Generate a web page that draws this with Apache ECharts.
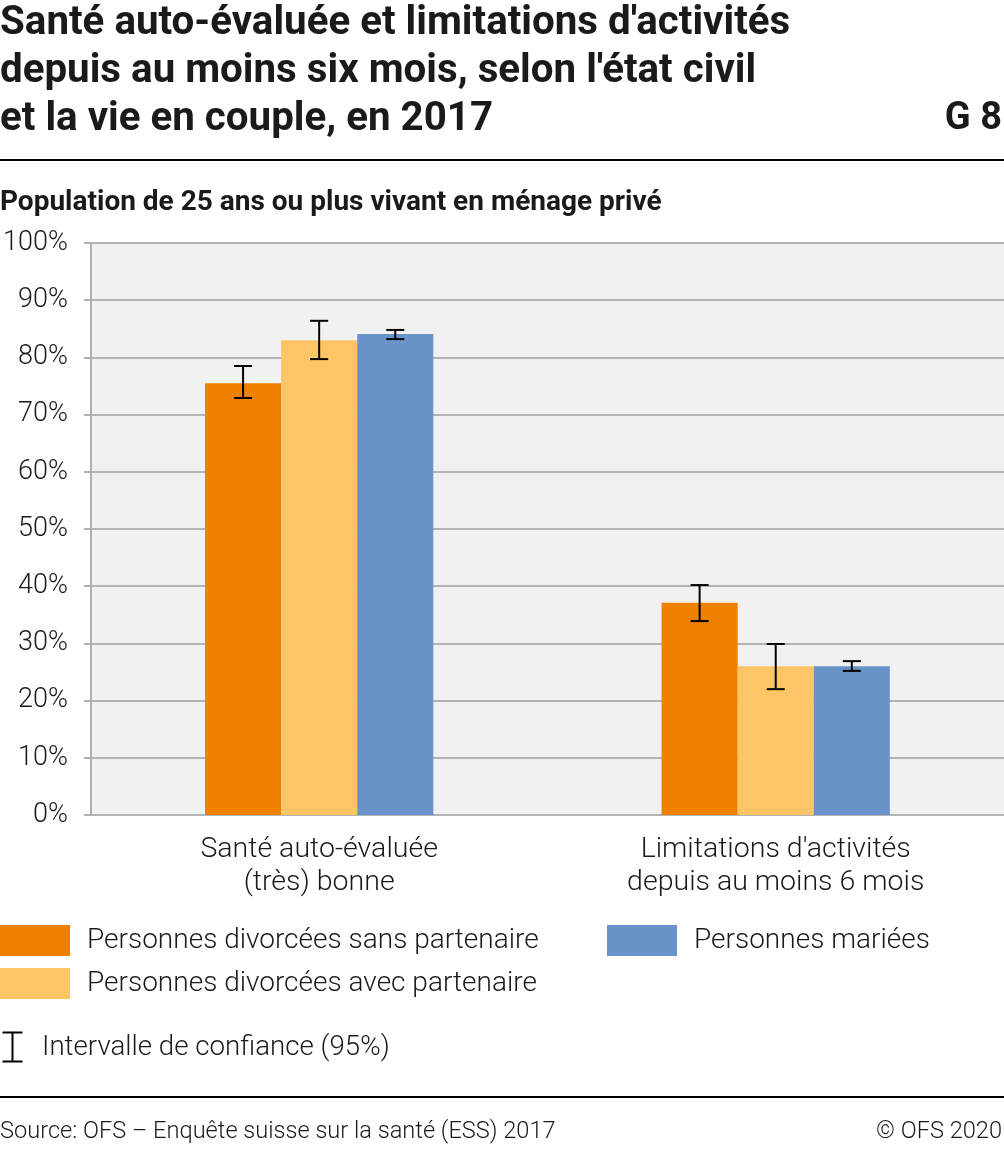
<!DOCTYPE html>
<html><head><meta charset="utf-8">
<script src="https://cdn.jsdelivr.net/npm/echarts@6/dist/echarts.min.js"></script>
<style>html,body{margin:0;padding:0;background:#fff}#c{width:1004px;height:1157px}</style>
</head><body><div id="c"></div>
<script>
const categories = ['Santé auto-évaluée\n(très) bonne', "Limitations d'activités\ndepuis au moins 6 mois"];
const seriesNames = ['Personnes divorcées sans partenaire', 'Personnes divorcées avec partenaire', 'Personnes mariées'];
const colors = ['#f08000', '#fdc566', '#6a93cc'];
const divSans = [75.5, 37.1];
const divAvec = [83.0, 26.0];
const maries = [84.1, 26.0];
const lowDivSans = [72.9, 33.9], highDivSans = [78.5, 40.2];
const lowDivAvec = [79.7, 22.0], highDivAvec = [86.4, 29.9];
const lowMaries = [83.2, 25.2], highMaries = [84.8, 26.9];
const yTicks = [0, 10, 20, 30, 40, 50, 60, 70, 80, 90, 100];

const values = [divSans, divAvec, maries];
const lows = [lowDivSans, lowDivAvec, lowMaries];
const highs = [highDivSans, highDivAvec, highMaries];
const FONT = 'Roboto';
const TXT = '#1a1a1a';

const chart = echarts.init(document.getElementById('c'), null, {renderer: 'canvas'});

const errData = [];
for (let s = 0; s < 3; s++) for (let i = 0; i < categories.length; i++) errData.push([i, lows[s][i], highs[s][i], s]);

function renderErr(params, api) {
  const i = api.value(0), lo = api.value(1), hi = api.value(2), s = api.value(3);
  const band = api.size([1, 0])[0];
  const bw = band * 0.5 / 3;
  const c = api.coord([i, 0]);
  const x = c[0] + (s - 1) * bw;
  const yl = api.coord([i, lo])[1], yh = api.coord([i, hi])[1];
  const cap = 9;
  const st = {stroke: '#000', lineWidth: 2};
  return {type: 'group', children: [
    {type: 'line', shape: {x1: x, y1: yl, x2: x, y2: yh}, style: st},
    {type: 'line', shape: {x1: x - cap, y1: yl, x2: x + cap, y2: yl}, style: st},
    {type: 'line', shape: {x1: x - cap, y1: yh, x2: x + cap, y2: yh}, style: st}
  ]};
}

const legendBase = {itemWidth: 70, itemHeight: 31, itemGap: 0, icon: 'rect', selectedMode: false,
  textStyle: {fontFamily: FONT, fontSize: 28, fontWeight: 300, color: TXT, padding: [5, 0, 0, 12]}, padding: 0};

const option = {
  animation: false,
  textStyle: {fontFamily: FONT},
  title: [
    {text: "Santé auto-évaluée et limitations d'activités\ndepuis au moins six mois, selon l'état civil\net la vie en couple, en 2017",
     left: 0, top: 0, padding: 0,
     textStyle: {fontFamily: FONT, fontSize: 40.3, fontWeight: 'bold', color: TXT, lineHeight: 48}},
    {text: 'G 8', right: 2, top: 100, padding: 0,
     textStyle: {fontFamily: FONT, fontSize: 38, fontWeight: 'bold', color: TXT}},
    {text: 'Population de 25 ans ou plus vivant en ménage privé', left: 0, top: 189, padding: 0,
     textStyle: {fontFamily: FONT, fontSize: 28, fontWeight: 'bold', color: TXT}},
    {text: 'Source: OFS – Enquête suisse sur la santé (ESS) 2017', left: 0, top: 1120, padding: 0,
     textStyle: {fontFamily: FONT, fontSize: 23.6, fontWeight: 300, color: TXT}},
    {text: '© OFS 2020', right: 2, top: 1120, padding: 0,
     textStyle: {fontFamily: FONT, fontSize: 23.6, fontWeight: 300, color: TXT}}
  ],
  legend: [
    Object.assign({}, legendBase, {left: 0, top: 925, data: [seriesNames[0]]}),
    Object.assign({}, legendBase, {left: 0, top: 968, data: [seriesNames[1]]}),
    Object.assign({}, legendBase, {left: 607, top: 925, data: [seriesNames[2]]})
  ],
  grid: {left: 90, right: 0, top: 243, bottom: 342, show: true, backgroundColor: '#f0f1f0', borderWidth: 0},
  xAxis: {type: 'category', data: categories,
    axisLine: {show: false}, axisTick: {show: false},
    axisLabel: {fontFamily: FONT, fontSize: 28.5, fontWeight: 300, color: TXT, lineHeight: 33, margin: 18}},
  yAxis: {type: 'value', min: 0, max: 100, interval: 10,
    axisLine: {show: true, lineStyle: {color: '#b0b0b0', width: 2}},
    axisTick: {show: true, length: 7, lineStyle: {color: '#b0b0b0', width: 2}},
    splitLine: {show: true, lineStyle: {color: '#b3b3b3', width: 2}},
    axisLabel: {fontFamily: FONT, fontSize: 27, fontWeight: 300, color: TXT, margin: 23,
      formatter: v => yTicks.includes(v) ? v + '%' : ''}},
  series: [
    ...values.map((v, s) => ({name: seriesNames[s], type: 'bar', data: v, barGap: '0%', barCategoryGap: '50%',
      itemStyle: {color: colors[s]}})),
    {type: 'custom', renderItem: renderErr, data: errData, z: 10, silent: true,
     encode: {x: 0, y: [1, 2]}}
  ],
  graphic: [
    {type: 'line', shape: {x1: 0, y1: 160, x2: 1004, y2: 160}, style: {stroke: '#000', lineWidth: 2}},
    {type: 'line', shape: {x1: 0, y1: 1097, x2: 1004, y2: 1097}, style: {stroke: '#000', lineWidth: 2}},
    {type: 'group', left: 0, top: 1030, children: [
      {type: 'line', shape: {x1: 11, y1: 0, x2: 11, y2: 29}, style: {stroke: '#000', lineWidth: 2}},
      {type: 'line', shape: {x1: 1, y1: 0, x2: 21, y2: 0}, style: {stroke: '#000', lineWidth: 2}},
      {type: 'line', shape: {x1: 1, y1: 29, x2: 21, y2: 29}, style: {stroke: '#000', lineWidth: 2}}
    ]},
    {type: 'text', left: 42, top: 1034, style: {text: 'Intervalle de confiance (95%)', font: '300 27.7px Roboto', fill: TXT}}
  ]
};
chart.setOption(option);
</script></body></html>
